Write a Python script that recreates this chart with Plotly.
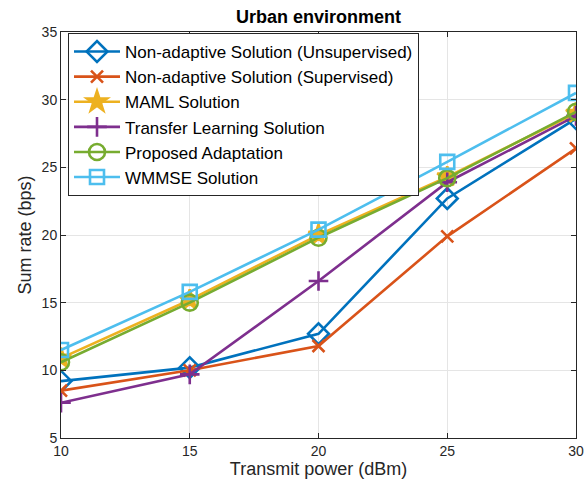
import plotly.graph_objects as go

power = [10, 15, 20, 25, 30]
non_adapt_unsup = [9.2, 10.2, 12.7, 22.7, 28.6]
non_adapt_sup = [8.5, 10.0, 11.8, 19.9, 26.4]
maml = [10.9, 15.2, 20.0, 24.3, 29.0]
transfer = [7.6, 9.7, 16.6, 23.9, 28.8]
proposed = [10.6, 15.0, 19.8, 24.2, 29.1]
wmmse = [11.5, 15.8, 20.4, 25.4, 30.5]

names = ["Non-adaptive Solution (Unsupervised)", "Non-adaptive Solution (Supervised)",
         "MAML Solution", "Transfer Learning Solution", "Proposed Adaptation", "WMMSE Solution"]
series = [non_adapt_unsup, non_adapt_sup, maml, transfer, proposed, wmmse]
colors = ["#0072BD", "#D95319", "#EDB120", "#7E2F8E", "#77AC30", "#4DBEEE"]
symbols = ["diamond-open", "x-thin-open", "star", "cross-thin-open", "circle-open", "square-open"]
sizes = [16, 12, 15, 14, 16, 14]

fig = go.Figure()
for n, s, c, sym, sz in zip(names, series, colors, symbols, sizes):
    fig.add_trace(go.Scatter(
        x=power, y=s, name=n, mode="lines+markers",
        line=dict(color=c, width=2.6),
        marker=dict(symbol=sym, size=sz, color=c, line=dict(color=c, width=2.6)),
    ))

axis_common = dict(
    showline=True, linecolor="#262626", linewidth=1, mirror="ticks",
    ticks="inside", ticklen=5, tickcolor="#262626",
    showgrid=True, gridcolor="#E5E5E5", gridwidth=1, zeroline=False,
    tickfont=dict(size=14, color="#262626"), automargin=False,
)

fig.update_layout(
    width=586, height=491,
    margin=dict(l=61, r=10, t=32, b=53),
    paper_bgcolor="white", plot_bgcolor="white",
    font=dict(family="Liberation Sans, Arial, sans-serif", color="#262626"),
    title=dict(text="<b>Urban environment</b>", xref="paper", x=0.5, xanchor="center",
               yref="container", y=0.965, yanchor="middle",
               font=dict(size=18, color="black")),
    xaxis=dict(range=[10, 30], tickvals=[10, 15, 20, 25, 30],
               title=dict(text="Transmit power (dBm)", font=dict(size=18), standoff=4), **axis_common),
    yaxis=dict(range=[5, 35], tickvals=[5, 10, 15, 20, 25, 30, 35],
               title=dict(text="Sum rate (bps)", font=dict(size=18), standoff=5), **axis_common),
    legend=dict(x=0.0136, y=0.9975, xanchor="left", yanchor="top",
                bgcolor="white", bordercolor="#262626", borderwidth=1,
                font=dict(size=17, color="black"), tracegroupgap=0,
                itemwidth=46),
    showlegend=True,
)

fig.write_html(
    "out.html",
    config={"displayModeBar": False},
    post_script="document.body.style.margin='0px';document.body.style.overflow='hidden';",
)
